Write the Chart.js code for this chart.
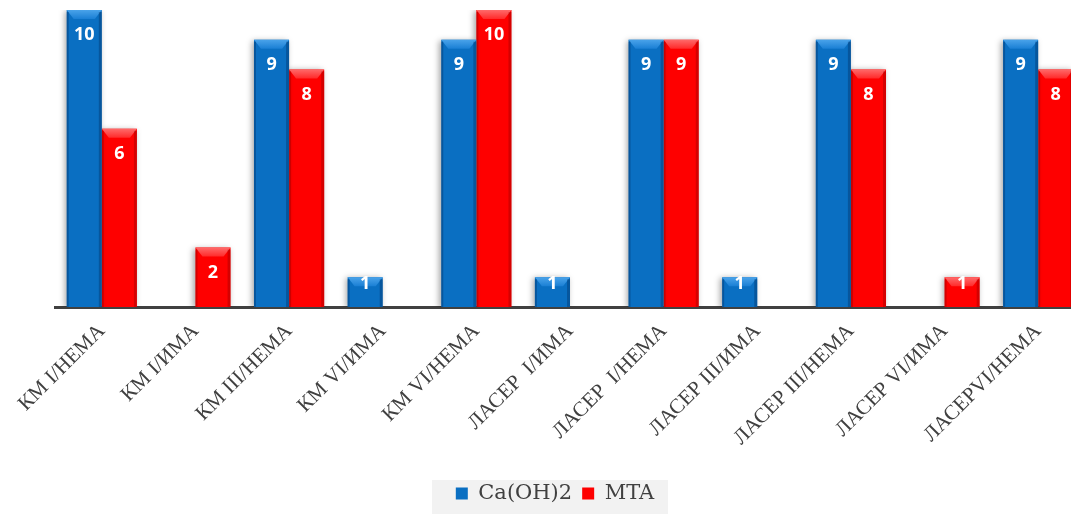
<!DOCTYPE html>
<html>
<head>
<meta charset="utf-8">
<script src="https://cdn.jsdelivr.net/npm/chart.js@4/dist/chart.umd.min.js"></script>
<style>
  html, body { margin: 0; padding: 0; background: #fff; overflow: hidden; }
  #wrap { width: 1071px; height: 514px; overflow: hidden; }
</style>
</head>
<body>
<div id="wrap"><canvas id="barChart" width="1085" height="514"></canvas></div>
<script>
// categories and series values
const categories = ['КМ I/НЕМА', 'КМ I/ИМА', 'КМ III/НЕМА', 'КМ VI/ИМА', 'КМ VI/НЕМА',
    'ЛАСЕР  I/ИМА', 'ЛАСЕР  I/НЕМА', 'ЛАСЕР III/ИМА', 'ЛАСЕР III/НЕМА', 'ЛАСЕР VI/ИМА', 'ЛАСЕРVI/НЕМА'];
const caOH = [10, null, 9, 1, 9, 1, 9, 1, 9, null, 9];
const mta = [6, 2, 8, null, 10, null, 9, null, 8, 1, 8];

const BLUE = '#0a6fc2';
const RED = '#fe0000';

// bevelled tops, darker sides and white value labels
const bevelPlugin = {
    id: 'bevel',
    beforeDatasetsDraw(chart) {
        const ctx = chart.ctx;
        ctx.save();
        ctx.shadowColor = 'rgba(0,0,0,0.35)';
        ctx.shadowBlur = 6;
        ctx.shadowOffsetX = -2;
        ctx.shadowOffsetY = 1;
    },
    afterDatasetsDraw(chart) {
        const ctx = chart.ctx;
        ctx.restore();
        ctx.save();
        chart.data.datasets.forEach((ds, di) => {
            const meta = chart.getDatasetMeta(di);
            const light = di === 0 ? '#4aa3ea' : '#ff6a6a';
            const dark = di === 0 ? 'rgba(0,40,90,0.35)' : 'rgba(120,0,0,0.3)';
            meta.data.forEach((bar, i) => {
                const v = ds.data[i];
                if (v == null) return;
                const left = bar.x - bar.width / 2;
                const right = bar.x + bar.width / 2;
                const top = bar.y;
                const h = bar.base - bar.y;
                const bev = 9;
                // top bevel
                const g = ctx.createLinearGradient(0, top, 0, top + bev);
                g.addColorStop(0, light);
                g.addColorStop(1, di === 0 ? '#1a7fd4' : '#ff2a2a');
                ctx.fillStyle = g;
                ctx.beginPath();
                ctx.moveTo(left, top);
                ctx.lineTo(right, top);
                ctx.lineTo(right - 7, top + bev);
                ctx.lineTo(left + 7, top + bev);
                ctx.closePath();
                ctx.fill();
                // side shading
                ctx.fillStyle = dark;
                ctx.fillRect(left, top + 2, 2, h - 2);
                ctx.fillRect(right - 3, top + 2, 3, h - 2);
                // value label
                const off = h >= 50 ? 25 : 7;
                ctx.fillStyle = '#ffffff';
                ctx.font = 'bold 18px "Open Sans", "Liberation Sans", sans-serif';
                ctx.textAlign = 'center';
                ctx.textBaseline = 'middle';
                ctx.fillText(String(v), bar.x, top + off);
            });
        });
        ctx.restore();
    }
};

// pale panel behind the legend
const legendPanel = {
    id: 'legendPanel',
    beforeDraw(chart) {
        const lg = chart.legend;
        if (!lg) return;
        const ctx = chart.ctx;
        ctx.save();
        ctx.fillStyle = '#f2f2f2';
        ctx.fillRect(432, 480, 236, 34);
        ctx.restore();
    }
};

new Chart(document.getElementById('barChart').getContext('2d'), {
    type: 'bar',
    data: {
        labels: categories,
        datasets: [
            { label: 'Ca(OH)2', data: caOH, backgroundColor: BLUE, borderWidth: 0 },
            { label: 'MTA', data: mta, backgroundColor: RED, borderWidth: 0 }
        ]
    },
    options: {
        responsive: false,
        animation: false,
        devicePixelRatio: 1,
        layout: { padding: { top: 10, left: 25, right: 0, bottom: 0 } },
        datasets: { bar: { categoryPercentage: 0.75, barPercentage: 1.0 } },
        scales: {
            y: {
                min: 0, max: 10,
                grid: { display: false },
                border: { display: false },
                ticks: { display: false },
                afterFit: s => { s.width = 30; }
            },
            x: {
                grid: { display: false, drawTicks: false },
                border: { display: true, color: '#404040', width: 3 },
                afterFit: s => { s.height = 166; },
                ticks: {
                    color: '#404040',
                    minRotation: 45,
                    maxRotation: 45,
                    padding: 12,
                    autoSkip: false,
                    font: { family: '"Liberation Serif", "DejaVu Serif", serif', size: 21 }
                }
            }
        },
        plugins: {
            legend: {
                position: 'bottom',
                labels: {
                    color: '#404040',
                    boxWidth: 12,
                    boxHeight: 12,
                    padding: 10,
                    font: { family: '"DejaVu Serif", "Liberation Serif", serif', size: 21 }
                }
            },
            tooltip: { enabled: false }
        }
    },
    plugins: [bevelPlugin, legendPanel]
});
</script>
</body>
</html>
